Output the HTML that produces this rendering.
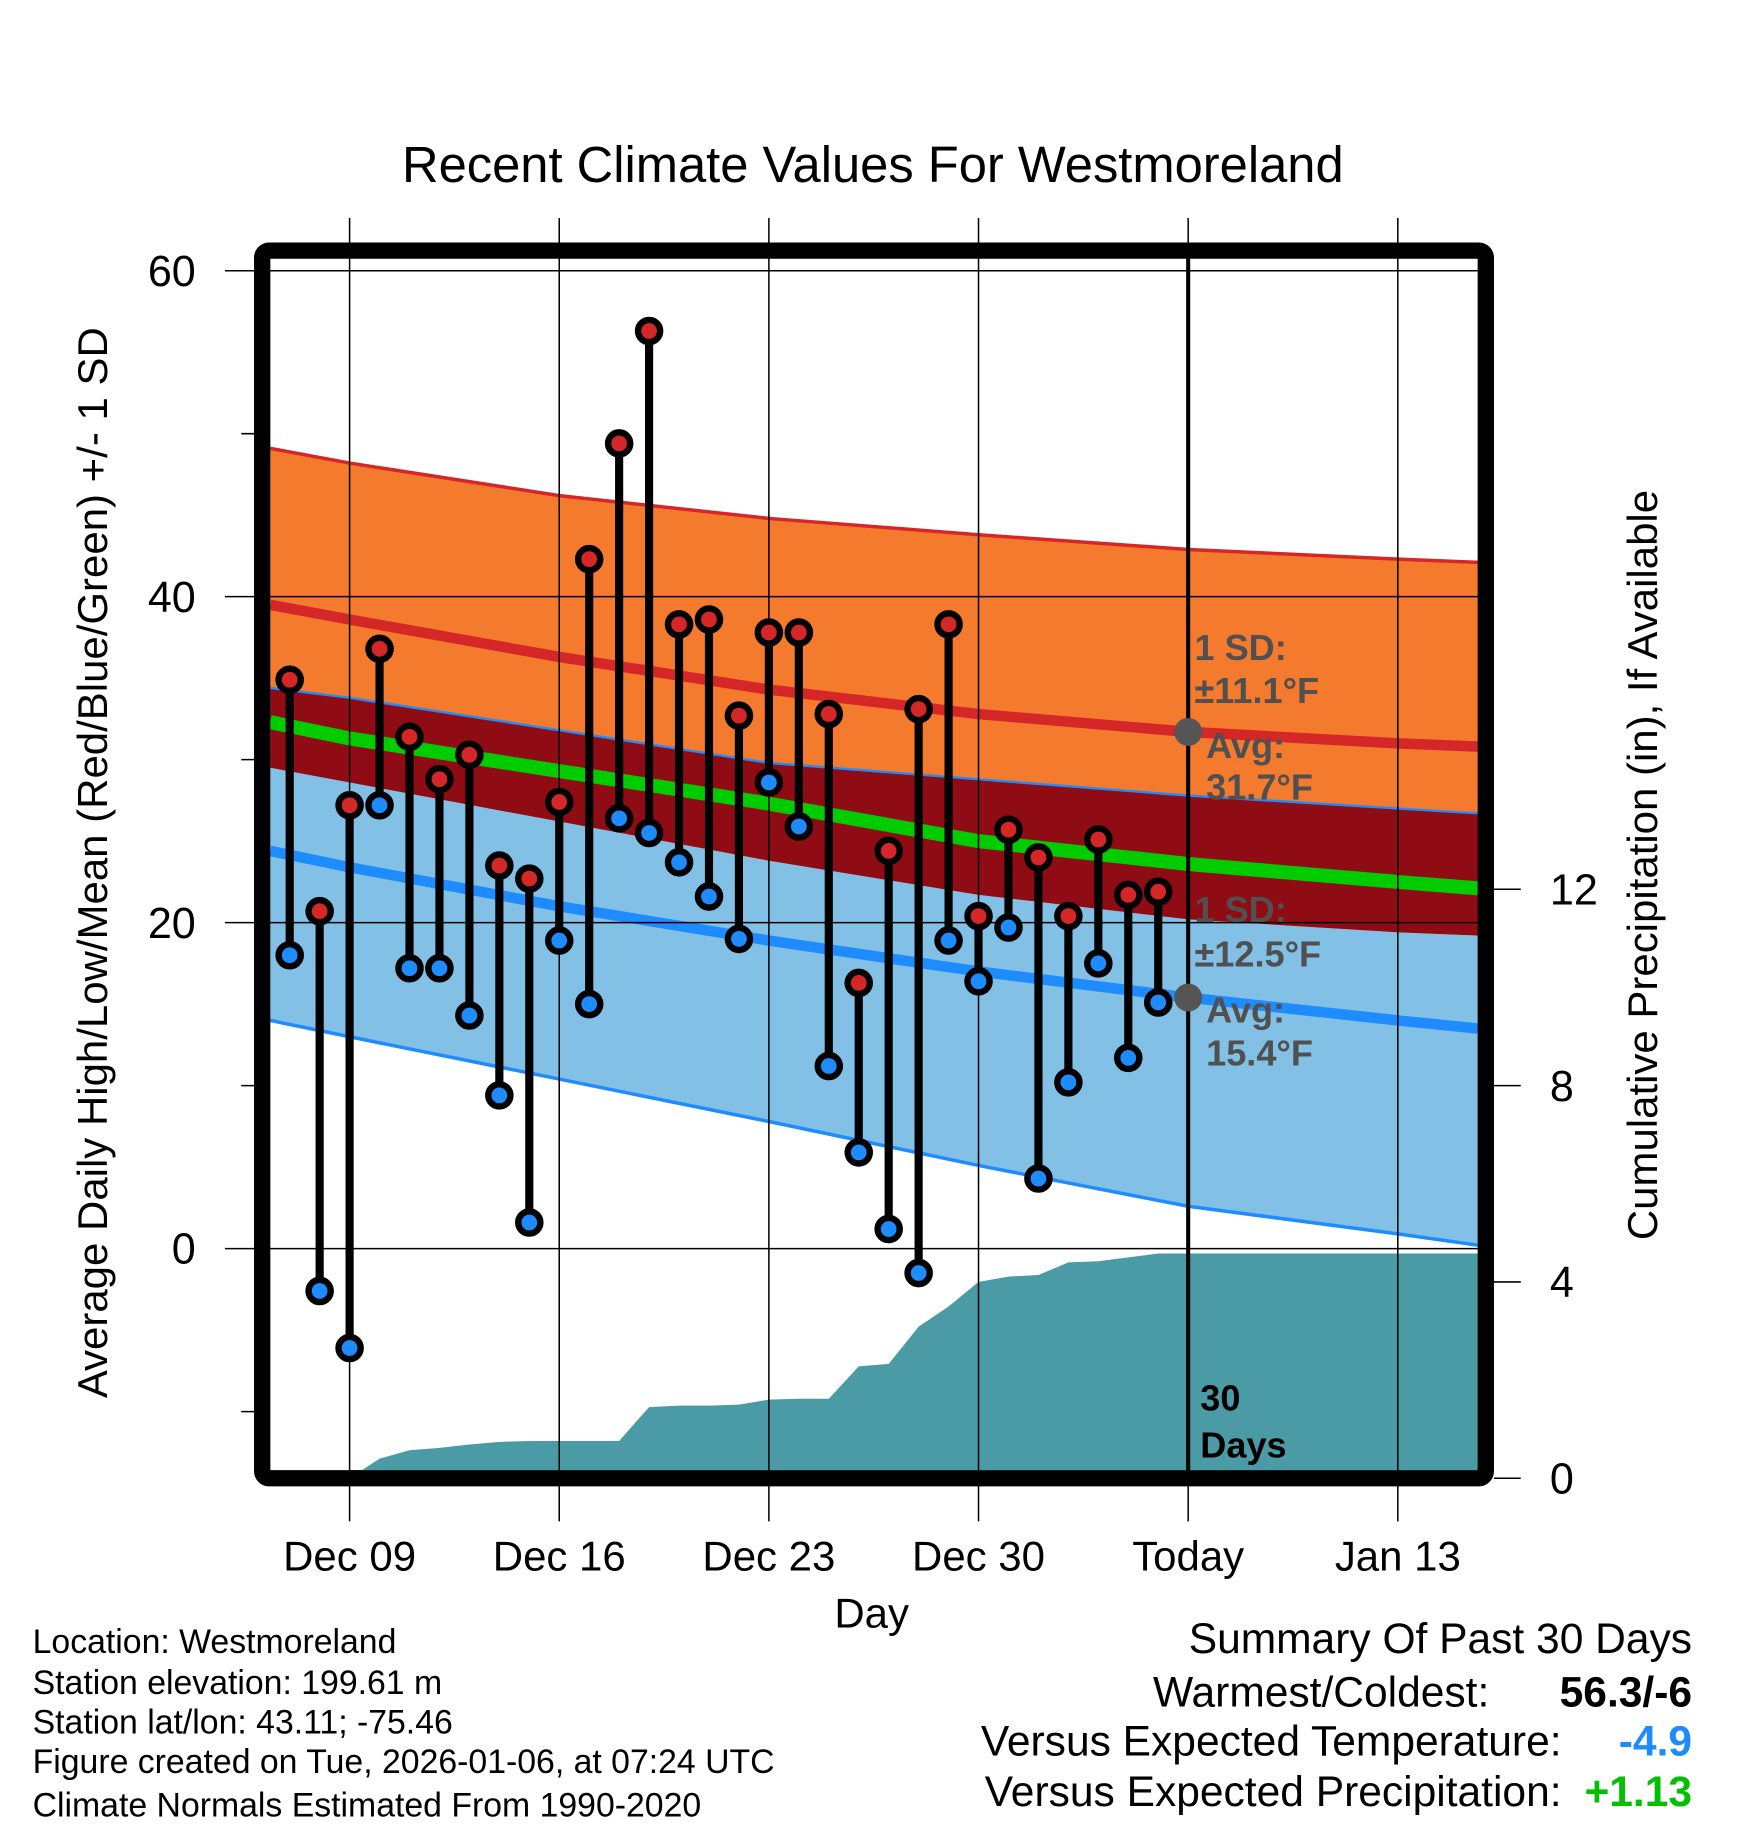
<!DOCTYPE html>
<html><head><meta charset="utf-8"><style>
html,body{margin:0;padding:0;background:#fff}
svg{display:block}
text{font-family:"Liberation Sans",Arial,sans-serif}
</style></head><body>
<svg id="chart" width="1748" height="1828" viewBox="0 0 1500 1568" preserveAspectRatio="none" xmlns="http://www.w3.org/2000/svg">
<text x="749" y="156" font-size="43.5" text-anchor="middle">Recent Climate Values For Westmoreland</text>
<g id="bands"></g>
<g id="grid"></g>
<g id="marks"></g>
<g id="annot"></g>
<text transform="translate(92,740) rotate(-90)" font-size="36" text-anchor="middle">Average Daily High/Low/Mean (Red/Blue/Green) +/- 1 SD</text>
<text transform="translate(1422,742) rotate(-90)" font-size="36" text-anchor="middle">Cumulative Precipitation (in), If Available</text>
<text x="748" y="1396" font-size="36" text-anchor="middle">Day</text>
<g font-size="29">
<text x="28" y="1418">Location: Westmoreland</text>
<text x="28" y="1453">Station elevation: 199.61 m</text>
<text x="28" y="1487">Station lat/lon: 43.11; -75.46</text>
<text x="28" y="1521">Figure created on Tue, 2026-01-06, at 07:24 UTC</text>
<text x="28" y="1558">Climate Normals Estimated From 1990-2020</text>
</g>
<g font-size="36.5">
<text x="1452" y="1418" text-anchor="end">Summary Of Past 30 Days</text>
<text x="1278" y="1464" text-anchor="end">Warmest/Coldest:</text>
<text x="1452" y="1464" text-anchor="end" font-weight="bold">56.3/-6</text>
<text x="1340" y="1506" text-anchor="end">Versus Expected Temperature:</text>
<text x="1452" y="1506" text-anchor="end" font-weight="bold" fill="#1e8cff">-4.9</text>
<text x="1340" y="1549" text-anchor="end">Versus Expected Precipitation:</text>
<text x="1452" y="1549" text-anchor="end" font-weight="bold" fill="#00c000">+1.13</text>
</g>
</svg>
<script>
// normals sampled at day offsets (Dec 7 = 0)
const normDays = [-0.65, 2, 9, 16, 23, 30, 37, 39.7];
const highPlusSD = [49.1, 48.2, 46.2, 44.8, 43.8, 42.9, 42.3, 42.1];
const highAvg = [39.5, 38.6, 36.3, 34.3, 32.8, 31.7, 31.0, 30.8];
const highMinusSD = [34.4, 33.8, 31.8, 29.8, 28.8, 27.8, 27.0, 26.7];
const meanAvg = [32.3, 31.3, 29.3, 27.3, 25.0, 23.6, 22.5, 22.1];
const lowPlusSD = [29.5, 28.6, 26.2, 23.8, 21.7, 20.2, 19.4, 19.2];
const lowAvg = [24.4, 23.4, 21.0, 18.9, 17.0, 15.4, 14.0, 13.5];
const lowMinusSD = [14.0, 13.0, 10.4, 7.8, 5.1, 2.6, 0.9, 0.2];
// observed
const highs = [34.9,20.7,27.2,36.8,31.4,28.8,30.3,23.5,22.7,27.4,42.3,49.4,56.3,38.3,38.6,32.7,37.8,37.8,32.8,16.3,24.4,33.1,38.3,20.4,25.7,24.0,20.4,25.1,21.7,21.9];
const lows = [18.0,-2.6,-6.1,27.2,17.2,17.2,14.3,9.4,1.6,18.9,15.0,26.4,25.5,23.7,21.6,19.0,28.6,25.9,11.2,5.9,1.2,-1.5,18.9,16.4,19.7,4.3,10.2,17.5,11.7,15.1];
const precipDays = [2,3,4,5,6,7,8,9,10,11,12,13,14,15,16,17,18,19,20,21,22,23,24,25,26,27,28,29,39.7];
const precip = [0,0.4,0.57,0.62,0.69,0.74,0.76,0.76,0.76,0.76,1.45,1.48,1.48,1.5,1.6,1.62,1.62,2.28,2.33,3.09,3.5,4.0,4.11,4.14,4.4,4.42,4.5,4.58,4.58];
const yTicks = [0,20,40,60];
const y2Ticks = [0,4,8,12];
const xTickDays = [2,9,16,23,30,37];
const xTickLabels = ["Dec 09","Dec 16","Dec 23","Dec 30","Today","Jan 13"];
const todayDay = 30;

const NS="http://www.w3.org/2000/svg";
const X=d=>248.6+25.7*d;
const Y=t=>1071-13.98*t;
const P=v=>1268-42.1*v;
function mk(parent,tag,attrs){const e=document.createElementNS(NS,tag);for(const k in attrs)e.setAttribute(k,attrs[k]);document.getElementById(parent).appendChild(e);return e;}
function pts(arr){return normDays.map((d,i)=>X(d).toFixed(1)+","+Y(arr[i]).toFixed(1));}
function band(top,bot){return pts(top).concat(pts(bot).reverse()).join(" ");}

let e;
e=mk('bands','polygon',{points:band(highPlusSD,highMinusSD),fill:'#f47a2e'});


e=mk('bands','polygon',{points:band(lowPlusSD,lowMinusSD),fill:'#82c0e6'});


e=mk('bands','polygon',{points:band(highMinusSD,lowPlusSD),fill:'#900c14'});


let pp=[X(2)+","+P(0)].concat(precipDays.map((d,i)=>X(d).toFixed(1)+","+P(precip[i]).toFixed(1)));
pp.push(X(39.7)+",1261");pp.push(X(2)+",1261");
e=mk('bands','polygon',{points:pp.join(" "),fill:'#4a9ba5'});


const lines=[[highPlusSD,'#d62728',3,'high-plus-sd-line'],[highAvg,'#d62728',9,'high-avg-line'],[highMinusSD,'#1e8cff',2,'high-minus-sd-line'],[meanAvg,'#00cc00',12,'mean-line'],[lowAvg,'#1e8cff',9,'low-avg-line'],[lowMinusSD,'#1e8cff',3,'low-minus-sd-line']];
lines.forEach(l=>{e=mk('bands','polyline',{points:pts(l[0]).join(" "),fill:'none',stroke:l[1],'stroke-width':l[2]});

});

xTickDays.forEach((d,i)=>{mk('grid','line',{x1:X(d),x2:X(d),y1:187,y2:1305,stroke:'#000','stroke-width':1.3});
e=mk('grid','text',{x:X(d),y:1347,'font-size':36,'text-anchor':'middle'});e.textContent=xTickLabels[i];

});
yTicks.forEach(t=>{mk('grid','line',{x1:193,x2:1268,y1:Y(t),y2:Y(t),stroke:'#000','stroke-width':1.3});
e=mk('grid','text',{x:168,y:Y(t)+13,'font-size':37,'text-anchor':'end'});e.textContent=t;

});
[-10,10,30,50].forEach(t=>mk('grid','line',{x1:207,x2:222,y1:Y(t),y2:Y(t),stroke:'#000','stroke-width':1.3}));
y2Ticks.forEach(v=>{mk('grid','line',{x1:1282,x2:1305,y1:P(v),y2:P(v),stroke:'#000','stroke-width':1.3});
e=mk('grid','text',{x:1330,y:P(v)+13,'font-size':37});e.textContent=v;

});
e=mk('grid','rect',{x:225,y:215,width:1050,height:1053,rx:6,fill:'none',stroke:'#000','stroke-width':14});


e=mk('grid','line',{x1:X(todayDay),x2:X(todayDay),y1:222,y2:1261,stroke:'#000','stroke-width':3.5});



highs.forEach((h,i)=>{const x=X(i);
e=mk('marks','line',{x1:x,x2:x,y1:Y(h),y2:Y(lows[i]),stroke:'#000','stroke-width':7});


[[h,'#d62728','high-point'],[lows[i],'#1e8cff','low-point']].forEach(m=>{
e=mk('marks','circle',{cx:x,cy:Y(m[0]),r:9.5,fill:m[1],stroke:'#000','stroke-width':5.5});

});
});

const tx=X(todayDay);
mk('annot','circle',{cx:tx,cy:Y(highAvg[5]),r:12,fill:'#555'});
mk('annot','circle',{cx:tx,cy:Y(lowAvg[5]),r:12,fill:'#555'});
[["1 SD:",1025,566],["±11.1°F",1025,603],["Avg:",1035,650],["31.7°F",1035,686],["1 SD:",1025,791],["±12.5°F",1025,829],["Avg:",1035,877],["15.4°F",1035,914]].forEach(a=>{
e=mk('annot','text',{x:a[1],y:a[2],'font-size':31,'font-weight':'bold',fill:'#505050'});e.textContent=a[0];

});
[["30",1030,1210],["Days",1030,1250]].forEach(a=>{
e=mk('annot','text',{x:a[1],y:a[2],'font-size':31,'font-weight':'bold',fill:'#000'});e.textContent=a[0];

});
</script>
</body></html>
